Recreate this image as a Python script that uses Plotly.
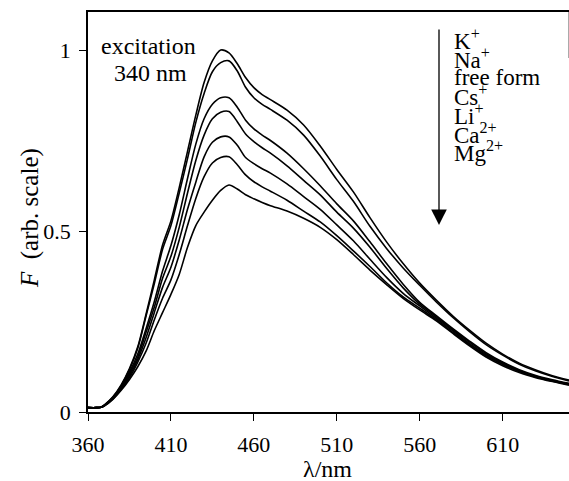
import plotly.graph_objects as go

# ---------------- data ----------------
wavelength = [360, 365, 368, 370, 375, 380, 385, 390, 395, 400, 405, 410, 415, 420,
              425, 430, 435, 440, 445, 450, 455, 460, 465, 470, 480, 490, 500, 510, 520,
              530, 540, 550, 560, 570, 580, 590, 600, 610, 620, 630, 640, 650]

F_K = [0.012, 0.012, 0.014, 0.020, 0.042, 0.075, 0.120, 0.180, 0.270, 0.365, 0.462, 0.528, 0.620, 0.720,
       0.820, 0.910, 0.970, 1.000, 0.992, 0.962, 0.924, 0.896, 0.877, 0.863, 0.834, 0.793, 0.735, 0.670,
       0.608, 0.537, 0.470, 0.410, 0.356, 0.309, 0.265, 0.226, 0.190, 0.160, 0.135, 0.116, 0.100, 0.088]
F_Na = [0.012, 0.012, 0.014, 0.020, 0.041, 0.073, 0.117, 0.176, 0.265, 0.355, 0.450, 0.515, 0.605, 0.700,
        0.800, 0.880, 0.940, 0.965, 0.970, 0.942, 0.897, 0.868, 0.850, 0.836, 0.806, 0.765, 0.707, 0.642,
        0.582, 0.513, 0.452, 0.398, 0.350, 0.304, 0.261, 0.222, 0.186, 0.157, 0.132, 0.113, 0.098, 0.086]
F_free = [0.012, 0.012, 0.013, 0.019, 0.039, 0.070, 0.110, 0.160, 0.230, 0.305, 0.390, 0.460, 0.545, 0.645,
          0.740, 0.810, 0.850, 0.868, 0.868, 0.842, 0.806, 0.782, 0.765, 0.750, 0.715, 0.672, 0.625, 0.575,
          0.528, 0.470, 0.410, 0.353, 0.303, 0.266, 0.230, 0.196, 0.164, 0.138, 0.117, 0.101, 0.089, 0.079]
F_Cs = [0.012, 0.012, 0.013, 0.019, 0.038, 0.068, 0.105, 0.152, 0.220, 0.290, 0.370, 0.430, 0.510, 0.605,
        0.695, 0.765, 0.810, 0.828, 0.830, 0.802, 0.768, 0.747, 0.730, 0.715, 0.680, 0.640, 0.600, 0.552,
        0.508, 0.455, 0.397, 0.343, 0.298, 0.263, 0.227, 0.193, 0.161, 0.136, 0.115, 0.099, 0.087, 0.078]
F_Li = [0.012, 0.012, 0.013, 0.018, 0.037, 0.066, 0.100, 0.145, 0.205, 0.275, 0.345, 0.400, 0.475, 0.560,
        0.635, 0.705, 0.745, 0.760, 0.760, 0.737, 0.703, 0.686, 0.672, 0.660, 0.630, 0.595, 0.560, 0.517,
        0.473, 0.422, 0.372, 0.328, 0.293, 0.259, 0.224, 0.189, 0.158, 0.133, 0.113, 0.098, 0.086, 0.077]
F_Ca = [0.012, 0.012, 0.013, 0.018, 0.036, 0.063, 0.095, 0.138, 0.190, 0.255, 0.315, 0.365, 0.435, 0.515,
        0.590, 0.650, 0.688, 0.703, 0.705, 0.683, 0.655, 0.636, 0.622, 0.610, 0.585, 0.555, 0.525, 0.487,
        0.445, 0.402, 0.357, 0.318, 0.287, 0.255, 0.220, 0.186, 0.155, 0.131, 0.112, 0.097, 0.085, 0.076]
F_Mg = [0.012, 0.012, 0.013, 0.017, 0.035, 0.060, 0.090, 0.125, 0.168, 0.225, 0.275, 0.325, 0.380, 0.455,
        0.515, 0.552, 0.585, 0.612, 0.627, 0.616, 0.600, 0.589, 0.579, 0.570, 0.555, 0.535, 0.510, 0.476,
        0.435, 0.392, 0.352, 0.314, 0.282, 0.252, 0.217, 0.183, 0.152, 0.128, 0.109, 0.095, 0.084, 0.074]

series = [F_K, F_Na, F_free, F_Cs, F_Li, F_Ca, F_Mg]
series_labels = ["K<sup>+</sup>", "Na<sup>+</sup>", "free form", "Cs<sup>+</sup>",
                 "Li<sup>+</sup>", "Ca<sup>2+</sup>", "Mg<sup>2+</sup>"]

x_ticks = [360, 410, 460, 510, 560, 610]
y_ticks = [0, 0.5, 1]
y_ticktext = ["0", "0.5", "1"]

# ---------------- layout helpers ----------------
W, H = 569, 481
ML, MR, MT, MB = 88, 0, 12, 69
PW, PH = W - ML - MR, H - MT - MB
FONT = "Liberation Serif, Times New Roman, serif"


def pxx(x):
    return (x - ML) / PW


def pxy(y):
    return (H - MB - y) / PH


fig = go.Figure()
for vals, name in zip(series, series_labels):
    fig.add_trace(go.Scatter(x=wavelength, y=vals, mode="lines", name=name,
                             line=dict(color="black", width=1.6, shape="spline", smoothing=0.8),
                             showlegend=False, hoverinfo="skip"))

annotations = [
    dict(text="excitation", x=pxx(148), y=pxy(46), xref="paper", yref="paper",
         showarrow=False, xanchor="center", yanchor="middle", font=dict(size=24)),
    dict(text="340 nm", x=pxx(150), y=pxy(73), xref="paper", yref="paper",
         showarrow=False, xanchor="center", yanchor="middle", font=dict(size=24)),
    dict(text="<i>F</i>  (arb. scale)", x=pxx(30), y=pxy(218), xref="paper", yref="paper",
         showarrow=False, textangle=-90, xanchor="center", yanchor="middle", font=dict(size=25)),
    dict(text="λ/nm", x=pxx(327), y=pxy(469), xref="paper", yref="paper",
         showarrow=False, xanchor="center", yanchor="middle", font=dict(size=24)),
    dict(text="", x=pxx(439), y=pxy(225), xref="paper", yref="paper",
         showarrow=True, ax=0, ay=-197, arrowhead=2, arrowsize=2.4, arrowwidth=1.3,
         arrowcolor="black", standoff=0, startstandoff=0),
]
for i, lab in enumerate(series_labels):
    annotations.append(dict(text=lab, x=pxx(452), y=pxy(40 + i * 18.6), xref="paper", yref="paper",
                            showarrow=False, xanchor="left", yanchor="middle", font=dict(size=23)))

fig.update_layout(
    width=W, height=H,
    margin=dict(l=ML, r=MR, t=MT, b=MB, pad=0),
    template="none",
    paper_bgcolor="white", plot_bgcolor="white",
    font=dict(family=FONT, color="black", size=22),
    annotations=annotations,
    shapes=[dict(type="line", xref="paper", yref="paper", x0=1, x1=1, y0=1, y1=pxy(58),
                 line=dict(color="#555", width=1))],
    showlegend=False,
)
fig.update_xaxes(range=[360, 650], tickvals=x_ticks, ticks="outside", ticklen=7, tickwidth=1.3,
                 tickcolor="black", showline=True, linecolor="black", linewidth=1.5, mirror=True,
                 showgrid=False, zeroline=False, tickfont=dict(size=22, family=FONT),
                 ticklabelstandoff=5)
fig.update_yaxes(range=[0, 1.105], tickvals=y_ticks, ticktext=y_ticktext, ticks="outside", ticklen=7,
                 tickwidth=1.3, tickcolor="black", showline=True, linecolor="black", linewidth=1.5,
                 mirror=False, showgrid=False, zeroline=False, tickfont=dict(size=22, family=FONT),
                 ticklabelstandoff=4)

fig.write_html("out.html", config={"displayModeBar": False},
               post_script="document.body.style.margin='0';document.body.style.overflow='hidden';")
